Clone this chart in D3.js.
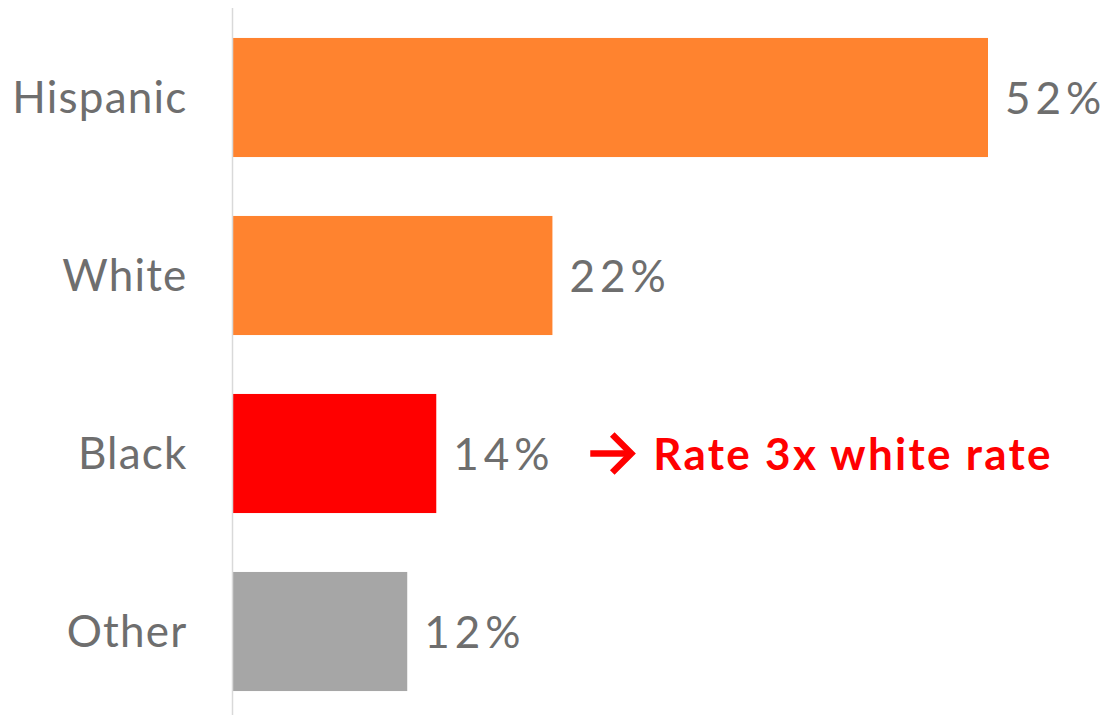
<!DOCTYPE html>
<html>
<head>
<meta charset="utf-8">
<script src="https://cdn.jsdelivr.net/npm/d3@7"></script>
<style>
  html, body { margin: 0; padding: 0; background: #fff; }
  svg { display: block; }
</style>
</head>
<body>
<svg id="chart" width="1112" height="715"></svg>
<script>
// Share of cases by race / ethnicity
const categories = ["Hispanic", "White", "Black", "Other"];
const values = [52, 22, 14, 12];
const barColors = ["#FF832F", "#FF832F", "#FF0000", "#A6A6A6"];
const valueLabels = ["52%", "22%", "14%", "12%"];
const note = { category: "Black", text: "Rate 3x white rate" };

const width = 1112, height = 715;
const svg = d3.select("#chart");

const x = d3.scaleLinear().domain([0, 52]).range([233, 988]);
const y = d3.scaleBand()
  .domain(categories)
  .range([8.5, 720.5])
  .paddingInner(0.331)
  .paddingOuter(0.1655);

const labelFont = "Lato, 'Open Sans', sans-serif";
const textGray = "#6e6e6e";

// bars
svg.append("g").selectAll("rect")
  .data(categories)
  .join("rect")
  .attr("x", x(0))
  .attr("y", d => y(d))
  .attr("width", (d, i) => x(values[i]) - x(0))
  .attr("height", y.bandwidth())
  .attr("fill", (d, i) => barColors[i]);

// category axis
const yAxis = d3.axisLeft(y).tickSize(0).tickPadding(45);
const gAxis = svg.append("g")
  .attr("transform", `translate(${x(0) - 0.5},0)`)
  .call(yAxis);
gAxis.select(".domain").remove();
gAxis.selectAll("text")
  .attr("font-family", labelFont)
  .attr("font-size", 44)
  .attr("letter-spacing", 1.2)
  .attr("fill", textGray)
  .attr("dy", "0.36em");

svg.append("line")
  .attr("x1", x(0) - 0.5).attr("x2", x(0) - 0.5)
  .attr("y1", 8).attr("y2", height)
  .attr("stroke", "#D9D9D9")
  .attr("stroke-width", 1.5);

// value labels
svg.append("g").selectAll("text")
  .data(categories)
  .join("text")
  .attr("x", (d, i) => x(values[i]) + 17)
  .attr("y", d => y(d) + y.bandwidth() / 2)
  .attr("dy", "0.38em")
  .attr("font-family", labelFont)
  .attr("font-size", 44)
  .attr("letter-spacing", 5)
  .attr("fill", textGray)
  .text((d, i) => valueLabels[i]);

// annotation next to the highlighted bar
const ni = categories.indexOf(note.category);
const ny = y(note.category) + y.bandwidth() / 2;
const ax = x(values[ni]) + 154;
const arrow = svg.append("g").attr("transform", `translate(${ax},${ny})`)
  .attr("stroke", "#FF0000").attr("stroke-width", 6.5).attr("fill", "none");
arrow.append("line").attr("x1", 0).attr("x2", 40).attr("y1", 0).attr("y2", 0);
arrow.append("path").attr("d", "M22,-19 L41,0 L22,19").attr("stroke-linejoin", "miter");

svg.append("text")
  .attr("x", ax + 63)
  .attr("y", ny)
  .attr("dy", "0.38em")
  .attr("font-family", "Lato, 'Open Sans', sans-serif")
  .attr("font-weight", "bold")
  .attr("font-size", 44)
  .attr("letter-spacing", 2.3)
  .attr("fill", "#FF0000")
  .text(note.text);
</script>
</body>
</html>
